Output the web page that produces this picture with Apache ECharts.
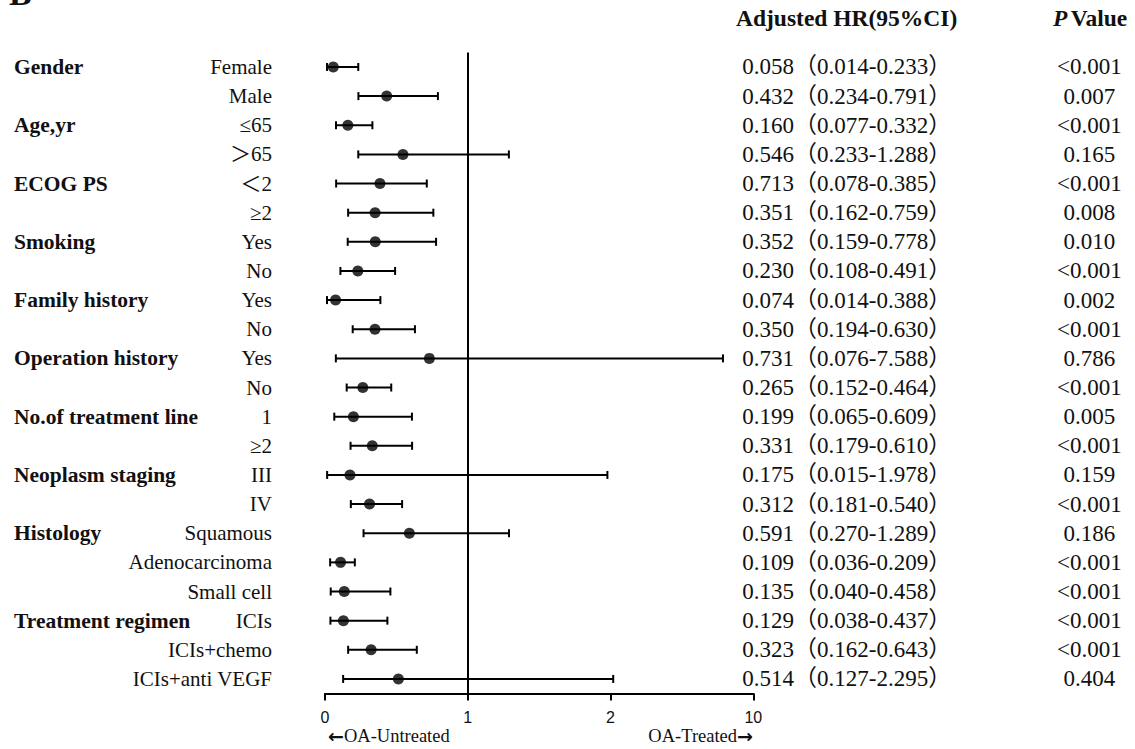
<!DOCTYPE html>
<html><head><meta charset="utf-8">
<script src="https://cdn.jsdelivr.net/npm/echarts@6/dist/echarts.min.js"></script>
<style>html,body{margin:0;padding:0;background:#fff}#c{width:1135px;height:749px}</style>
</head><body><div id="c"></div>
<script>
const groupLabels = ['Gender','','Age,yr','','ECOG PS','','Smoking','','Family history','','Operation history','','No.of treatment line','','Neoplasm staging','','Histology','','','Treatment regimen','',''];
const subLabels = ['Female','Male','≤65','＞65','＜2','≥2','Yes','No','Yes','No','Yes','No','1','≥2','III','IV','Squamous','Adenocarcinoma','Small cell','ICIs','ICIs+chemo','ICIs+anti VEGF'];
// plotted values
const hrPoint = [0.058,0.432,0.160,0.546,0.385,0.351,0.352,0.230,0.074,0.350,0.731,0.265,0.199,0.331,0.175,0.312,0.591,0.109,0.135,0.129,0.323,0.514];
const ciLower = [0.014,0.234,0.077,0.233,0.078,0.162,0.159,0.108,0.014,0.194,0.076,0.152,0.065,0.179,0.015,0.181,0.270,0.036,0.040,0.038,0.162,0.127];
const ciUpper = [0.233,0.791,0.332,1.288,0.713,0.759,0.778,0.491,0.388,0.630,8.3,0.464,0.609,0.610,1.978,0.540,1.289,0.209,0.458,0.437,0.643,2.15];
const hrText = ['0.058（0.014-0.233）','0.432（0.234-0.791）','0.160（0.077-0.332）','0.546（0.233-1.288）','0.713（0.078-0.385）','0.351（0.162-0.759）','0.352（0.159-0.778）','0.230（0.108-0.491）','0.074（0.014-0.388）','0.350（0.194-0.630）','0.731（0.076-7.588）','0.265（0.152-0.464）','0.199（0.065-0.609）','0.331（0.179-0.610）','0.175（0.015-1.978）','0.312（0.181-0.540）','0.591（0.270-1.289）','0.109（0.036-0.209）','0.135（0.040-0.458）','0.129（0.038-0.437）','0.323（0.162-0.643）','0.514（0.127-2.295）'];
const pText = ['<0.001','0.007','<0.001','0.165','<0.001','0.008','0.010','<0.001','0.002','<0.001','0.786','<0.001','0.005','<0.001','0.159','<0.001','0.186','<0.001','<0.001','<0.001','<0.001','0.404'];
const xTicks = [0, 1, 2, 10];
const xTickLabels = ['0','1','2','10'];

// piecewise axis: 0-1-2 linear, 2-10 compressed into one unit
function t(v){ return v <= 2 ? v : 2 + (v - 2) / 8; }

const serif = "'Liberation Serif','Times New Roman','Noto Sans CJK SC',serif";
const idx = subLabels.map((_, i) => String(i));
const base = {type:'category', gridIndex:0, data: idx, inverse:true,
  axisLine:{show:false}, axisTick:{show:false}, splitLine:{show:false}};

const chart = echarts.init(document.getElementById('c'), null, {renderer:'svg'});
chart.setOption({
  animation:false,
  backgroundColor:'#fff',
  grid:{left:325, right:381.7, top:52.4, bottom:55.5, containLabel:false},
  xAxis:{type:'value', min:0, max:3, interval:1,
    axisLine:{show:true, lineStyle:{color:'#000', width:2}},
    axisTick:{show:true, length:7, lineStyle:{color:'#000', width:2}},
    splitLine:{show:false},
    axisLabel:{margin:16, color:'#111', fontSize:16, fontFamily:"'Liberation Sans',Arial,sans-serif",
      formatter: v => xTickLabels[v]}},
  yAxis:[
    Object.assign({}, base, {position:'left', axisLabel:{interval:0, margin:53, color:'#111', fontSize:21, fontFamily:serif,
      formatter:(v,i)=>subLabels[i]}}),
    Object.assign({}, base, {position:'left', axisLabel:{interval:0, margin:311, align:'left', color:'#111', fontSize:21.5, fontWeight:'bold', fontFamily:serif,
      formatter:(v,i)=>groupLabels[i]}}),
    Object.assign({}, base, {position:'right', axisLabel:{interval:0, margin:-11, align:'left', color:'#111', fontSize:23, fontFamily:serif,
      padding:[0,0,5,0], formatter:(v,i)=>hrText[i]}}),
    Object.assign({}, base, {position:'right', axisLabel:{interval:0, margin:336, align:'center', color:'#111', fontSize:23, fontFamily:serif,
      padding:[0,0,5,0], formatter:(v,i)=>pText[i]}})
  ],
  graphic:[
    {type:'text', left:9, top:-24, style:{text:'B', font:"bold 34px "+serif, fill:'#111'}},
    {type:'text', left:736, top:6, style:{text:'Adjusted HR(95%CI)', font:"bold 23.5px "+serif, fill:'#111'}},
    {type:'text', left:1053, top:6, style:{text:'{i|P} {b|Value}', fill:'#111',
      rich:{i:{fontStyle:'italic', fontWeight:'bold', fontSize:23.5, fontFamily:serif}, b:{fontWeight:'bold', fontSize:23.5, fontFamily:serif}}}},
    {type:'text', left:328, top:726, style:{text:'{a|←}{t|OA-Untreated}', fill:'#111',
      rich:{a:{fontSize:19, fontWeight:'bold', fontFamily:"'DejaVu Sans',sans-serif"}, t:{fontSize:18.5, fontFamily:serif}}}},
    {type:'text', right:382, top:726, style:{text:'{t|OA-Treated}{a|→}', fill:'#111',
      rich:{a:{fontSize:19, fontWeight:'bold', fontFamily:"'DejaVu Sans',sans-serif"}, t:{fontSize:18.5, fontFamily:serif}}}}
  ],
  series:[
    {type:'custom', xAxisIndex:0, yAxisIndex:0, silent:true,
      data: ciLower.map((lo,i)=>[i, t(lo), t(ciUpper[i])]),
      encode:{x:[1,2], y:0},
      renderItem:(params, api)=>{
        const y = api.value(0);
        const a = api.coord([api.value(1), y]);
        const b = api.coord([api.value(2), y]);
        const h = 4, st = {stroke:'#000', lineWidth:2};
        return {type:'group', children:[
          {type:'line', shape:{x1:a[0], y1:a[1], x2:b[0], y2:b[1]}, style:st},
          {type:'line', shape:{x1:a[0], y1:a[1]-h, x2:a[0], y2:a[1]+h}, style:st},
          {type:'line', shape:{x1:b[0], y1:b[1]-h, x2:b[0], y2:b[1]+h}, style:st}
        ]};
      }},
    {type:'scatter', xAxisIndex:0, yAxisIndex:0, silent:true, symbolSize:11, z:5,
      itemStyle:{color:'#000'},
      data: hrPoint.map((v,i)=>[t(v), i]),
      markLine:{silent:true, symbol:['none','none'], label:{show:false},
        lineStyle:{color:'#000', width:2, type:'solid'},
        data:[{xAxis:1}]}}
  ]
});
</script></body></html>
